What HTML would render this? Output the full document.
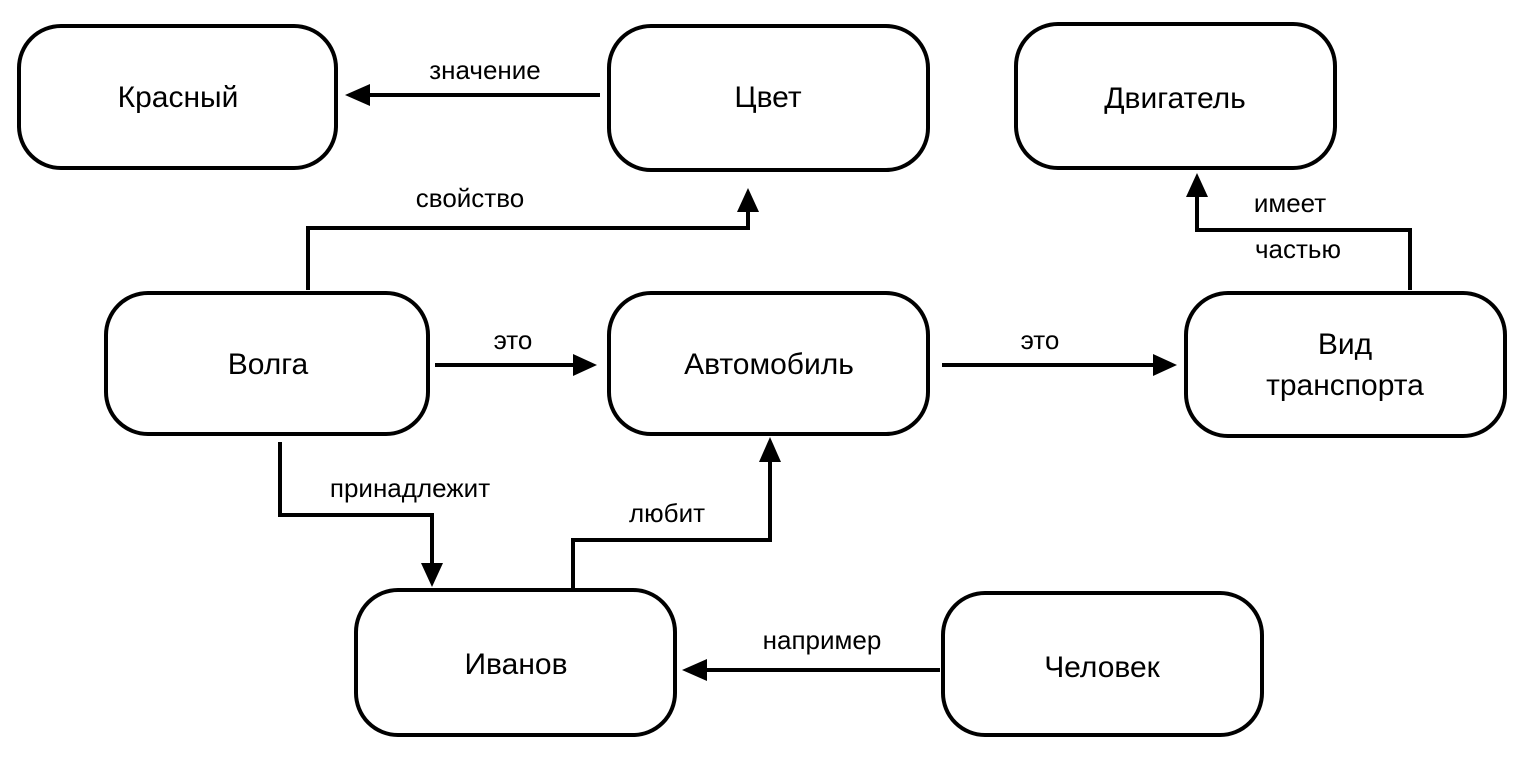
<!DOCTYPE html>
<html><head><meta charset="utf-8"><style>
html,body{margin:0;padding:0;background:#fff;}
svg text{font-family:"Liberation Sans",sans-serif;fill:#000;}
</style></head><body>
<svg width="1513" height="752" viewBox="0 0 1513 752" xmlns="http://www.w3.org/2000/svg">
<defs>
<marker id="a" markerWidth="10" markerHeight="10" refX="9" refY="5" orient="auto" markerUnits="userSpaceOnUse" viewBox="0 0 10 10">
</marker>
</defs>
<g fill="none" stroke="#000" stroke-width="4">
<rect x="19" y="26" width="317" height="142" rx="42"/>
<rect x="609" y="26" width="319" height="144" rx="42"/>
<rect x="1016" y="24" width="319" height="144" rx="42"/>
<rect x="106" y="293" width="322" height="141" rx="42"/>
<rect x="609" y="293" width="319" height="141" rx="42"/>
<rect x="1186" y="293" width="319" height="143" rx="42"/>
<rect x="356" y="590" width="319" height="145" rx="42"/>
<rect x="943" y="593" width="319" height="142" rx="42"/>
<polyline points="600,95 365,95"/>
<polyline points="308,290 308,228 748,228 748,210"/>
<polyline points="435,365 575,365"/>
<polyline points="942,365 1155,365"/>
<polyline points="1410,290 1410,230 1197,230 1197,195"/>
<polyline points="280,442 280,515 432,515 432,565"/>
<polyline points="573,588 573,540 770,540 770,460"/>
<polyline points="940,670 705,670"/>
</g>
<g fill="#000">
<polygon points="345,95 370,84 370,106"/>
<polygon points="748,188 737,212 759,212"/>
<polygon points="597,365 573,354 573,376"/>
<polygon points="1177,365 1153,354 1153,376"/>
<polygon points="1197,173 1186,197 1208,197"/>
<polygon points="432,587 421,563 443,563"/>
<polygon points="770,437 759,462 781,462"/>
<polygon points="682,670 707,659 707,681"/>
</g>
<g font-size="30" text-anchor="middle">
<text x="178" y="107">Красный</text>
<text x="768" y="107">Цвет</text>
<text x="1175" y="108">Двигатель</text>
<text x="268" y="374">Волга</text>
<text x="769" y="374">Автомобиль</text>
<text x="1345" y="354">Вид</text>
<text x="1345" y="395">транспорта</text>
<text x="516" y="674">Иванов</text>
<text x="1102" y="677">Человек</text>
</g>
<g font-size="26" text-anchor="middle">
<text x="485" y="79">значение</text>
<text x="470" y="207">свойство</text>
<text x="513" y="349">это</text>
<text x="1040" y="349">это</text>
<text x="1290" y="212">имеет</text>
<text x="1298" y="258">частью</text>
<text x="410" y="497">принадлежит</text>
<text x="667" y="522">любит</text>
<text x="822" y="649">например</text>
</g>
</svg>
</body></html>
